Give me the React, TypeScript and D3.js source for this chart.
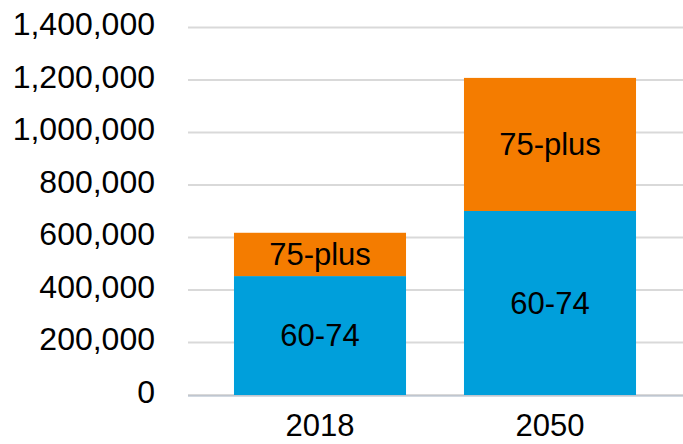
import React from "react";
import * as d3 from "d3";

const categories = ["2018", "2050"];
const seriesNames = ["60-74", "75-plus"];
const values6074 = [453000, 701000];
const values75plus = [165000, 507000];
const yTicks = [0, 200000, 400000, 600000, 800000, 1000000, 1200000, 1400000];
const colors = ["#009fdb", "#f47c00"];

const W = 683;
const H = 444;

export default function App() {
  const y = d3.scaleLinear().domain([0, 1400000]).range([395, 27.5]);
  const x = d3
    .scaleBand<string>()
    .domain(categories)
    .range([205, 665])
    .paddingInner(0.252)
    .paddingOuter(0.126);

  const table = categories.map((c, i) => ({
    cat: c,
    "60-74": values6074[i],
    "75-plus": values75plus[i],
  }));
  const stacked = d3.stack<any>().keys(seriesNames)(table);
  const fmt = d3.format(",");
  const font = "Liberation Sans, Arial, sans-serif";

  return (
    <svg
      width={W}
      height={H}
      style={{ position: "absolute", left: 0, top: 0, background: "#fff" }}
      fontFamily={font}
    >
      {yTicks.map((t) => (
        <g key={t}>
          <line x1={188} x2={683} y1={y(t)} y2={y(t)} stroke="#d9d9d9" strokeWidth={2} />
          <text x={155} y={y(t)} dy="0.24em" textAnchor="end" fontSize={32} fill="#000">
            {fmt(t)}
          </text>
        </g>
      ))}
      {stacked.map((s, si) =>
        s.map((d, i) => {
          const x0 = x(categories[i])!;
          const y0 = y(d[1]);
          const h = y(d[0]) - y(d[1]);
          return (
            <g key={`${si}-${i}`}>
              <rect x={x0} y={y0} width={x.bandwidth()} height={h} fill={colors[si]} />
              <text
                x={x0 + x.bandwidth() / 2}
                y={y0 + h / 2}
                dy="0.34em"
                textAnchor="middle"
                fontSize={31}
                fill="#000"
              >
                {seriesNames[si]}
              </text>
            </g>
          );
        })
      )}
      <line x1={188} x2={683} y1={y(0) + 1} y2={y(0) + 1} stroke="#a6b3c4" strokeWidth={1} />
      {categories.map((c) => (
        <text
          key={c}
          x={x(c)! + x.bandwidth() / 2}
          y={436}
          textAnchor="middle"
          fontSize={31}
          fill="#000"
        >
          {c}
        </text>
      ))}
    </svg>
  );
}
